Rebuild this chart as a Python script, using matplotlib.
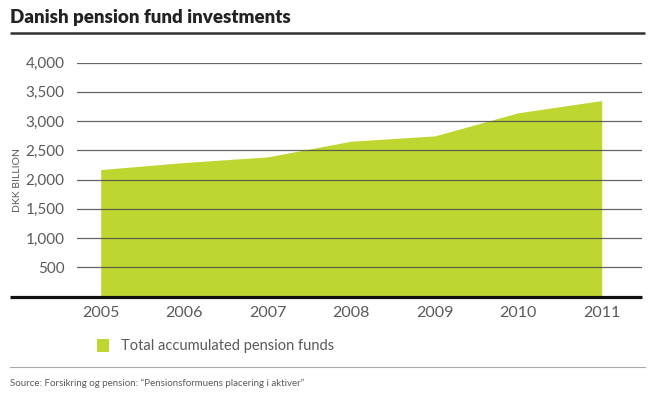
import matplotlib
matplotlib.use('Agg')
import matplotlib.pyplot as plt
from matplotlib.lines import Line2D
from matplotlib.patches import Rectangle

plt.rcParams['font.family'] = ['Lato', 'DejaVu Sans']

# data (DKK billion)
years = [2005, 2006, 2007, 2008, 2009, 2010, 2011]
funds = [2170, 2290, 2387, 2655, 2745, 3140, 3350]
y_ticks = [500, 1000, 1500, 2000, 2500, 3000, 3500, 4000]
series_name = 'Total accumulated pension funds'
title = 'Danish pension fund investments'
source = 'Source: Forsikring og pension: “Pensionsformuens placering i aktiver”'

green = '#bfd630'
grey_txt = '#5a5a5a'

fig = plt.figure(figsize=(6.5, 3.98), dpi=100)
ax = fig.add_axes([77 / 650, 1 - 296.5 / 398, 565 / 650, 234 / 398])

ax.fill_between(years, funds, 0, color=green, linewidth=0, zorder=1)

# gridlines drawn over the area
for t in y_ticks:
    ax.axhline(t, color='#4a4a4a', lw=0.9, alpha=0.85, zorder=2)

ax.set_xlim(2005 - 23.7 / 83.5, 2011 + 40.3 / 83.5)
ax.set_ylim(0, 4000)
ax.set_yticks(y_ticks)
ax.set_yticklabels([f'{v:,}' for v in y_ticks])
ax.set_xticks(years)
ax.set_xticklabels([str(y) for y in years])
ax.tick_params(axis='y', length=0, pad=9, labelsize=11, labelcolor=grey_txt)
ax.tick_params(axis='x', length=0, pad=7, labelsize=11.5, labelcolor=grey_txt)
for s in ax.spines.values():
    s.set_visible(False)

# thick baseline extending to the left edge
fig.add_artist(Line2D([10 / 650, 642 / 650], [1 - 296.5 / 398] * 2,
                      color='#111111', lw=2.3, solid_capstyle='butt'))

# y axis title
fig.text(17 / 650, 1 - 180 / 398, 'DKK BILLION', rotation=90, ha='center',
         va='center', fontsize=7.5, color=grey_txt)

# title and rule
fig.text(10 / 650, 1 - 17 / 398, title, fontsize=13.5, fontweight='heavy',
         color='#222222', ha='left', va='center')
fig.add_artist(Line2D([10 / 650, 645 / 650], [1 - 33 / 398] * 2,
                      color='#333333', lw=1.8, solid_capstyle='butt'))

# legend
fig.add_artist(Rectangle((97 / 650, 1 - 352 / 398), 12 / 650, 13 / 398,
                         transform=fig.transFigure, color=green, lw=0))
fig.text(121 / 650, 1 - 346 / 398, series_name, fontsize=10.5,
         color=grey_txt, ha='left', va='center')

# bottom rule and source
fig.add_artist(Line2D([10 / 650, 645 / 650], [1 - 367 / 398] * 2,
                      color='#aaaaaa', lw=0.8))
fig.text(10 / 650, 1 - 383 / 398, source, fontsize=7,
         color=grey_txt, ha='left', va='center')

fig.savefig('out.png', dpi=100)
